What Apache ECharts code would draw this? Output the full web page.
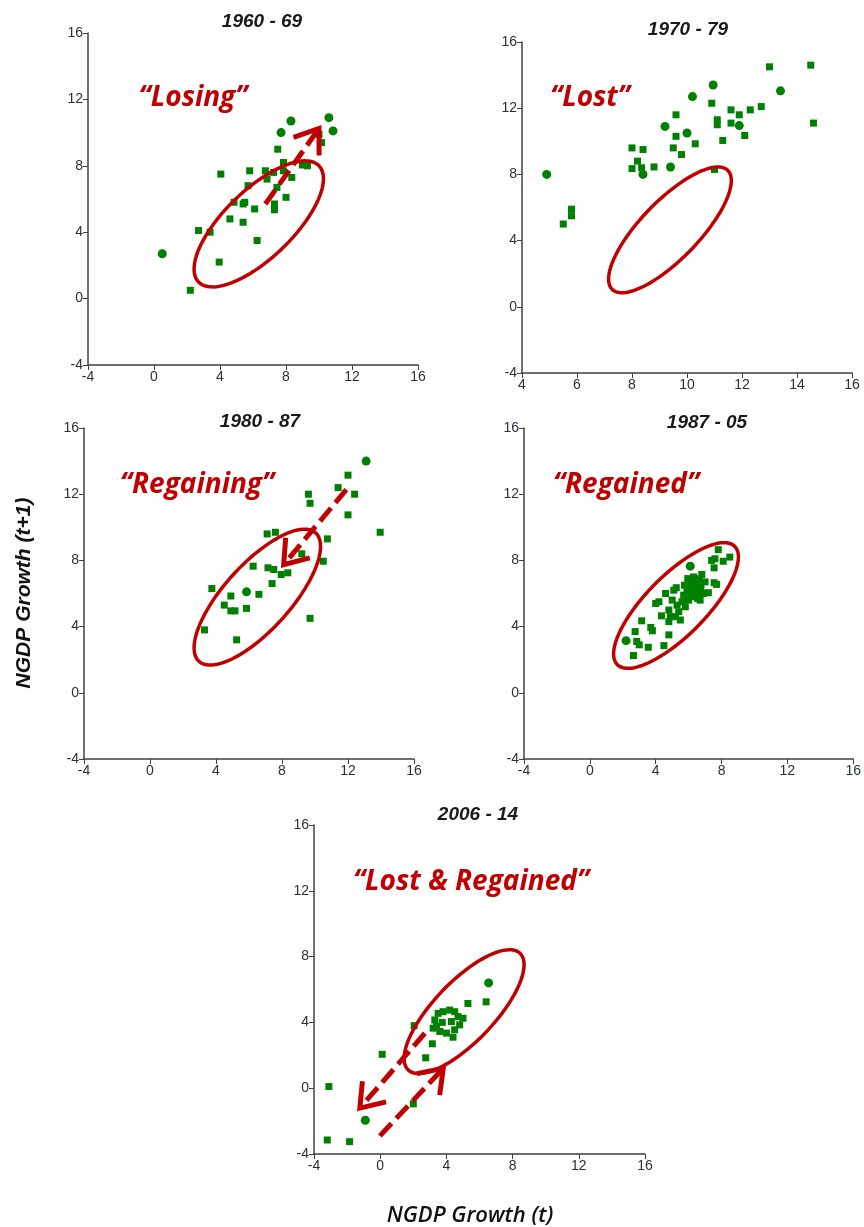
<!DOCTYPE html>
<html>
<head>
<meta charset="utf-8">
<script src="https://cdn.jsdelivr.net/npm/echarts@6/dist/echarts.min.js"></script>
<style>
  html, body { margin: 0; padding: 0; background: #fff; }
  #chart { width: 864px; height: 1227px; }
</style>
</head>
<body>
<div id="chart"></div>
<script>
// ---- data: [NGDP growth t, NGDP growth t+1] ----
var periods = ['1960 - 69', '1970 - 79', '1980 - 87', '1987 - 05', '2006 - 14'];
var regimes = ['\u201cLosing\u201d', '\u201cLost\u201d', '\u201cRegaining\u201d', '\u201cRegained\u201d', '\u201cLost & Regained\u201d'];

var squares6069 = [[2.2,0.5],[2.7,4.1],[3.4,4.0],[4.05,7.5],[3.95,2.2],[4.6,4.8],[4.85,5.8],[5.4,5.7],[5.5,5.8],
  [5.4,4.6],[5.8,7.7],[5.7,6.8],[6.1,5.4],[6.25,3.5],[6.75,7.7],[6.85,7.2],[7.25,7.6],[7.45,6.7],[7.3,5.7],
  [7.3,5.35],[7.5,9.0],[7.85,8.2],[7.85,7.7],[8.35,7.3],[8.0,6.1],[9.0,8.05],[9.3,8.0],[10.0,9.9],[10.15,9.4]];
var circles6069 = [[0.5,2.7],[7.7,10.0],[8.3,10.7],[10.6,10.9],[10.85,10.1]];

var squares7079 = [[5.5,5.0],[5.8,5.9],[5.8,5.5],[8.0,9.6],[8.0,8.35],[8.2,8.8],[8.4,9.5],[8.35,8.4],[8.8,8.45],
  [9.5,9.6],[9.6,10.3],[9.6,11.6],[9.8,9.2],[10.3,9.85],[10.9,12.3],[11.0,8.3],[11.1,11.3],[11.1,11.0],
  [11.3,10.05],[11.6,11.9],[11.6,11.1],[11.9,11.6],[12.1,10.35],[12.3,11.9],[12.7,12.1],[13.0,14.5],
  [14.5,14.6],[14.6,11.1]];
var circles7079 = [[4.9,8.0],[8.4,8.0],[9.2,10.9],[9.4,8.45],[10.0,10.5],[10.2,12.7],[10.95,13.4],[11.9,10.95],[13.4,13.05]];

var squares8087 = [[3.3,3.8],[3.75,6.3],[4.5,5.3],[4.9,5.85],[4.9,4.95],[5.15,4.95],[5.25,3.2],[5.85,5.1],
  [6.25,7.65],[6.6,5.95],[7.1,9.6],[7.15,7.55],[7.6,9.7],[7.5,7.45],[7.4,6.6],[7.95,7.15],[8.35,7.25],
  [9.2,8.4],[9.6,12.0],[9.7,11.45],[9.7,4.5],[10.5,7.95],[10.75,9.3],[11.4,12.4],[12.0,13.15],[12.0,10.75],
  [12.4,12.0],[13.95,9.7]];
var circles8087 = [[5.85,6.1],[13.1,14.0]];

var squares8705 = [[2.65,2.25],[2.75,3.7],[2.85,3.1],[3.0,2.9],[3.15,4.35],[3.55,2.75],[3.7,3.95],[3.8,3.75],
  [4.5,2.85],[4.8,3.5],[4.0,5.4],[4.2,5.5],[4.35,4.65],[4.8,4.3],[4.9,4.6],[4.8,5.0],[4.6,6.0],[5.1,6.2],
  [5.25,6.35],[5.3,5.3],[5.4,4.9],[5.2,4.6],[5.5,4.4],[5.8,5.2],[5.7,5.9],[5.9,5.7],[5.75,6.5],[5.9,6.1],
  [6.0,6.6],[6.0,5.6],[6.1,6.3],[6.15,5.9],[6.2,6.7],[6.25,6.1],[6.3,6.4],[6.35,5.8],[6.4,6.9],[6.45,6.2],
  [6.5,6.5],[6.55,5.7],[6.6,6.1],[6.65,6.8],[6.7,5.6],[6.75,6.4],[6.8,7.15],[6.9,6.0],[7.0,6.7],[7.2,6.05],
  [7.55,6.65],[7.7,6.55],[7.4,8.0],[7.6,8.1],[7.8,8.65],[8.1,7.95],[7.55,7.55],[8.5,8.2],[5.6,5.5],
  [5.0,5.6],[6.3,7.0],[5.95,6.9]];
var circles8705 = [[2.2,3.15],[6.1,7.65]];

var squares0614 = [[-3.2,-3.15],[-1.85,-3.25],[-3.1,0.1],[0.12,2.06],[2.0,-0.95],[2.05,3.8],[2.75,1.85],
  [3.15,2.7],[3.5,4.55],[3.8,4.65],[4.2,4.75],[4.5,4.65],[4.7,4.35],[5.0,4.25],[4.8,3.85],[4.5,3.55],
  [4.4,3.1],[4.0,3.35],[3.6,3.45],[3.4,3.75],[3.3,4.15],[3.75,4.0],[4.3,4.05],[3.2,3.65],[5.3,5.15],[6.4,5.25]];
var circles0614 = [[6.55,6.4],[-0.9,-1.95]];

var squareSets = [squares6069, squares7079, squares8087, squares8705, squares0614];
var circleSets = [circles6069, circles7079, circles8087, circles8705, circles0614];

var xTickMin = [-4, 4, -4, -4, -4];
var xTickStep = [4, 2, 4, 4, 4];

// ---- annotations (ellipses and arrows, in data units) ----
var annotations = [
  { ellipse: { from: [2.7, 1.0], to: [10.0, 8.0], half: 34 },
    arrows: [{ from: [6.75, 5.7], to: [10.0, 10.25] }] },
  { ellipse: { from: [7.28, 1.05], to: [11.48, 8.25], half: 29 }, arrows: [] },
  { ellipse: { from: [2.97, 1.9], to: [10.04, 9.66], half: 33 },
    arrows: [{ from: [11.9, 12.28], to: [8.1, 7.74] }] },
  { ellipse: { from: [1.67, 1.7], to: [8.8, 8.85], half: 30 }, arrows: [] },
  { ellipse: { from: [1.69, 1.11], to: [8.45, 8.2], half: 30 },
    arrows: [{ from: [2.7, 3.34], to: [-1.23, -1.21] }, { from: [-0.02, -2.9], to: [3.81, 1.21] }] }
];

var RED = '#c00000';
var GREEN = '#008000';
var AXIS = '#404040';

var grids = [
  { left: 88, top: 33, width: 330, height: 332 },
  { left: 522, top: 42, width: 330, height: 331 },
  { left: 84, top: 428, width: 330, height: 331 },
  { left: 524, top: 428, width: 332, height: 331 },
  { left: 314, top: 825, width: 331, height: 329 }
];
var titlePos = [[262, 22], [688, 30], [260, 422], [707, 423], [478, 815]];
var labelPos = [[193, 98], [590, 98], [197, 485], [626, 485], [471, 882]];

function annotRender(ann) {
  return function (params, api) {
    var children = [];
    var e = ann.ellipse;
    var p1 = api.coord(e.from), p2 = api.coord(e.to);
    var cx = (p1[0] + p2[0]) / 2, cy = (p1[1] + p2[1]) / 2;
    var dx = p2[0] - p1[0], dy = p2[1] - p1[1];
    var a = Math.sqrt(dx * dx + dy * dy) / 2, ang = Math.atan2(dy, dx);
    var pts = [];
    for (var i = 0; i < 90; i++) {
      var t = i / 90 * 2 * Math.PI;
      var lx = a * Math.cos(t), ly = e.half * Math.sin(t);
      pts.push([cx + lx * Math.cos(ang) - ly * Math.sin(ang), cy + lx * Math.sin(ang) + ly * Math.cos(ang)]);
    }
    children.push({ type: 'polygon', shape: { points: pts },
      style: { fill: 'none', stroke: RED, lineWidth: 3.5 } });

    ann.arrows.forEach(function (ar) {
      var s = api.coord(ar.from), tp = api.coord(ar.to);
      var ddx = tp[0] - s[0], ddy = tp[1] - s[1];
      var len = Math.sqrt(ddx * ddx + ddy * ddy), ux = ddx / len, uy = ddy / len;
      var head = 27, spread = 0.62;
      function wing(sign) {
        var c = Math.cos(sign * spread), sn = Math.sin(sign * spread);
        var bx = -ux, by = -uy;
        return [tp[0] + head * (bx * c - by * sn), tp[1] + head * (bx * sn + by * c)];
      }
      children.push({ type: 'line',
        shape: { x1: s[0], y1: s[1], x2: tp[0] - ux * 4, y2: tp[1] - uy * 4 },
        style: { stroke: RED, lineWidth: 5, lineDash: [17, 7] } });
      children.push({ type: 'polyline', shape: { points: [wing(1), tp, wing(-1)] },
        style: { fill: 'none', stroke: RED, lineWidth: 5, lineJoin: 'miter' } });
    });
    return { type: 'group', children: children };
  };
}

var xAxes = [], yAxes = [], series = [], graphics = [];
for (var k = 0; k < 5; k++) {
  var axisCommon = {
    gridIndex: k, type: 'value', max: 16,
    axisLine: { show: true, onZero: false, lineStyle: { color: AXIS, width: 1.5 } },
    axisTick: { show: true, length: 5, lineStyle: { color: AXIS } },
    axisLabel: { color: '#2b2f3a', fontSize: 14, fontFamily: 'Liberation Sans', margin: 5,
                 showMinLabel: true, showMaxLabel: true },
    splitLine: { show: false }
  };
  xAxes.push(Object.assign({}, axisCommon, { min: xTickMin[k], interval: xTickStep[k] }));
  yAxes.push(Object.assign({}, axisCommon, { min: -4, interval: 4 }));

  series.push({ type: 'scatter', xAxisIndex: k, yAxisIndex: k, symbol: 'rect', symbolSize: 7,
    itemStyle: { color: GREEN, opacity: 1 }, data: squareSets[k], z: 2, silent: true });
  series.push({ type: 'scatter', xAxisIndex: k, yAxisIndex: k, symbol: 'circle', symbolSize: 9,
    itemStyle: { color: GREEN, opacity: 1 }, data: circleSets[k], z: 2, silent: true });
  series.push({ type: 'custom', xAxisIndex: k, yAxisIndex: k, data: [[8, 8]], z: 5, silent: true,
    clip: false, renderItem: annotRender(annotations[k]) });

  graphics.push({ type: 'text', x: titlePos[k][0], y: titlePos[k][1],
    style: { text: periods[k], fill: '#1a1a1a', font: 'italic bold 19px "Liberation Sans", Arial',
             align: 'center', verticalAlign: 'middle' } });
  graphics.push({ type: 'text', x: labelPos[k][0], y: labelPos[k][1], z: 10,
    style: { text: regimes[k], fill: RED, font: 'italic bold 28px "Open Sans", Lato, sans-serif',
             align: 'center', verticalAlign: 'middle' } });
}

graphics.push({ type: 'text', x: 24, y: 593, rotation: Math.PI / 2,
  style: { text: 'NGDP Growth (t+1)', fill: '#111', font: 'italic bold 21px "Liberation Sans", Arial',
           align: 'center', verticalAlign: 'middle' } });
graphics.push({ type: 'text', x: 470, y: 1216,
  style: { text: 'NGDP Growth (t)', fill: '#111', font: 'italic 600 22px "Open Sans", sans-serif',
           align: 'center', verticalAlign: 'middle' } });

var myChart = echarts.init(document.getElementById('chart'));
myChart.setOption({
  backgroundColor: '#fff',
  animation: false,
  grid: grids,
  xAxis: xAxes,
  yAxis: yAxes,
  series: series,
  graphic: graphics
});
</script>
</body>
</html>
